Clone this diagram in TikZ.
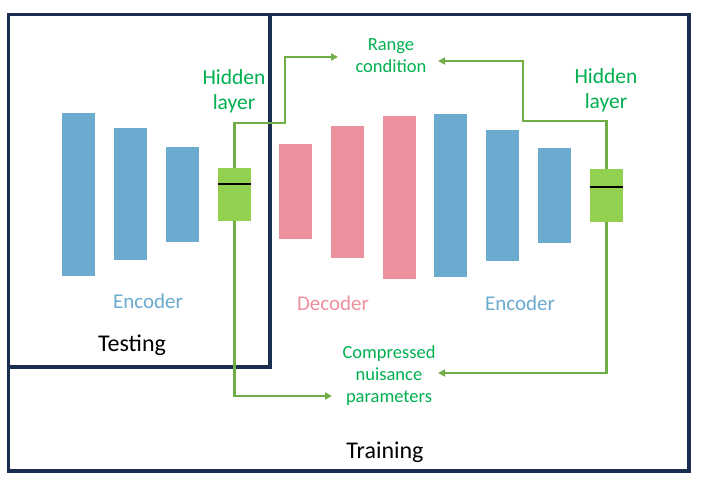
\documentclass[tikz,border=0pt]{standalone}
\usepackage{fontspec}
\setmainfont{Carlito}
\usetikzlibrary{arrows.meta}
\definecolor{navy}{HTML}{1A2E50}
\definecolor{barblue}{HTML}{6AABCF}
\definecolor{barpink}{HTML}{EE919F}
\definecolor{boxgreen}{HTML}{92D050}
\definecolor{linegreen}{HTML}{70AD47}
\definecolor{textgreen}{HTML}{00B050}
\tikzset{
  frame/.style={draw=navy, line width=3.4pt},
  bar/.style={draw=none, inner sep=0pt, minimum width=33pt},
  bluebar/.style={bar, fill=barblue},
  pinkbar/.style={bar, fill=barpink},
  hid/.style={bar, fill=boxgreen, minimum height=53pt},
  conn/.style={draw=linegreen, line width=2.3pt, -{Triangle[length=7pt,width=7pt]}},
  gtext/.style={text=textgreen, align=center, inner sep=0pt},
}
\begin{document}
\begin{tikzpicture}[x=1pt,y=-1pt]
\useasboundingbox (0,0) rectangle (705,490);
\fill[white] (0,0) rectangle (705,490);
% frames
\draw[frame] (8.5,14.5) rectangle (689,471);
\draw[frame] (8.5,14.5) rectangle (270,367);
% left encoder
\node[bluebar, minimum height=163pt] (b1) at (78.5,194.5) {};
\node[bluebar, minimum height=132pt] (b2) at (130.5,194) {};
\node[bluebar, minimum height=95pt] (b3) at (182.5,194.5) {};
\node[hid] (g1) at (234.5,194.5) {};
\draw[line width=2pt] ([yshift=-16pt]g1.north west) -- ([yshift=-16pt]g1.north east);
% decoder
\node[pinkbar, minimum height=95pt] (p1) at (295.5,191.5) {};
\node[pinkbar, minimum height=132pt] (p2) at (347.5,192) {};
\node[pinkbar, minimum height=163pt] (p3) at (399.5,197.5) {};
% right encoder
\node[bluebar, minimum height=163pt] (b4) at (450.5,195.5) {};
\node[bluebar, minimum height=131pt] (b5) at (502.5,195.5) {};
\node[bluebar, minimum height=95pt] (b6) at (554.5,195.5) {};
\node[hid] (g2) at (606.5,195.5) {};
\draw[line width=2pt] ([yshift=-18pt]g2.north west) -- ([yshift=-18pt]g2.north east);
% texts
\node[gtext, font=\fontsize{21.5}{25}\selectfont] (h1) at (234,91) {Hidden\\layer};
\node[gtext, font=\fontsize{21.5}{25}\selectfont] (h2) at (606,90) {Hidden\\layer};
\node[gtext, font=\fontsize{18.5}{22}\selectfont] (rc) at (391,56) {Range\\condition};
\node[gtext, font=\fontsize{18.5}{22}\selectfont] (cn) at (389,376) {Compressed\\nuisance\\parameters};
\node[text=barblue, font=\fontsize{21}{24}\selectfont] (e1) at (148,301) {Encoder};
\node[text=barpink, font=\fontsize{21}{24}\selectfont] (d1) at (333,303) {Decoder};
\node[text=barblue, font=\fontsize{21}{24}\selectfont] (e2) at (520,303) {Encoder};
\node[font=\fontsize{24}{28}\selectfont] (te) at (132,345) {Testing};
\node[font=\fontsize{24}{28}\selectfont] (tr) at (385,452) {Training};
% connector coordinates
\coordinate (a1) at (234.5,123);
\coordinate (a2) at (285,123);
\coordinate (a3) at (285,57);
\coordinate (at1) at (338,57);
\coordinate (c1) at (234.5,396);
\coordinate (ct1) at (332,396);
\coordinate (r1) at (606.5,121);
\coordinate (r2) at (523,121);
\coordinate (r3) at (523,61);
\coordinate (rt1) at (438,61);
\coordinate (s1) at (606.5,373);
\coordinate (st1) at (438,373);
% connectors
\draw[conn] (g1.north) -- (a1) -- (a2) -- (a3) -- (at1);
\draw[conn] (g1.south) -- (c1) -- (ct1);
\draw[conn] (g2.north) -- (r1) -- (r2) -- (r3) -- (rt1);
\draw[conn] (g2.south) -- (s1) -- (st1);
\end{tikzpicture}
\end{document}
